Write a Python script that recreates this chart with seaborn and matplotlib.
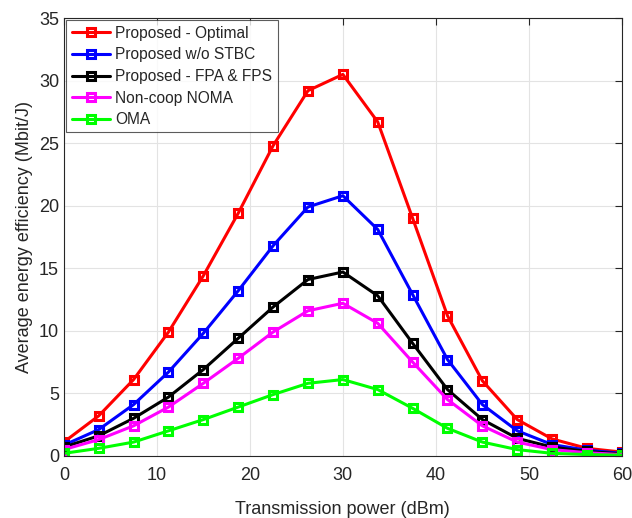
import numpy as np
import pandas as pd
import seaborn as sns
import matplotlib.pyplot as plt

# données
puissance = [0, 3.75, 7.5, 11.25, 15, 18.75, 22.5, 26.25, 30, 33.75, 37.5, 41.25, 45, 48.75, 52.5, 56.25, 60]

optimal = [1.1, 3.2, 6.1, 9.9, 14.4, 19.4, 24.8, 29.2, 30.5, 26.7, 19.0, 11.2, 6.0, 2.9, 1.35, 0.6, 0.3]
sans_stbc = [0.85, 2.1, 4.1, 6.7, 9.8, 13.2, 16.8, 19.9, 20.8, 18.1, 12.9, 7.7, 4.1, 2.0, 0.9, 0.45, 0.2]
fpa_fps = [0.7, 1.6, 3.0, 4.7, 6.9, 9.4, 11.9, 14.1, 14.7, 12.8, 9.0, 5.3, 2.9, 1.4, 0.7, 0.35, 0.15]
noncoop_noma = [0.5, 1.3, 2.4, 3.9, 5.8, 7.8, 9.9, 11.6, 12.2, 10.6, 7.5, 4.5, 2.4, 1.1, 0.5, 0.25, 0.1]
oma = [0.2, 0.6, 1.1, 2.0, 2.9, 3.9, 4.9, 5.8, 6.1, 5.3, 3.8, 2.2, 1.1, 0.5, 0.2, 0.1, 0.05]

noms = ["Proposed - Optimal", "Proposed w/o STBC", "Proposed - FPA & FPS", "Non-coop NOMA", "OMA"]
couleurs = ["#ff0000", "#0000ff", "#000000", "#ff00ff", "#00ff00"]
series = [optimal, sans_stbc, fpa_fps, noncoop_noma, oma]

sns.set_style("white")
plt.rcParams['font.family'] = ['Liberation Sans', 'DejaVu Sans']

fig, ax = plt.subplots(figsize=(6.32, 5.18), dpi=100)
fig.subplots_adjust(left=0.101, right=0.984, top=0.965, bottom=0.12)

for nom, c, y in zip(noms, couleurs, series):
    df = pd.DataFrame({"x": puissance, "y": y})
    sns.lineplot(data=df, x="x", y="y", ax=ax, color=c, linewidth=2.2,
                 marker="s", markersize=5.5, markerfacecolor="none",
                 markeredgecolor=c, markeredgewidth=2.2, label=nom)

ax.set_xlim(0, 60)
ax.set_ylim(0, 35)
ax.set_xticks(np.arange(0, 61, 10))
ax.set_yticks(np.arange(0, 36, 5))
ax.grid(True, color="#e3e3e3", linewidth=0.8)
ax.tick_params(direction="in", labelsize=13, length=5, top=True, right=True, labeltop=False, labelright=False)
ax.tick_params(axis="x", pad=8)
for s in ax.spines.values():
    s.set_color("#262626")
    s.set_linewidth(0.8)

ax.set_xlabel("Transmission power (dBm)", fontsize=13, labelpad=12)
ax.set_ylabel("Average energy efficiency (Mbit/J)", fontsize=13, labelpad=4)

leg = ax.legend(loc="upper left", fontsize=11.2, frameon=True, fancybox=False,
                borderaxespad=0.15, handlelength=2.5, handletextpad=0.3,
                labelspacing=0.42, borderpad=0.35)
leg.get_frame().set_edgecolor("#333333")
leg.get_frame().set_linewidth(0.8)

plt.savefig("out.png", dpi=100)
